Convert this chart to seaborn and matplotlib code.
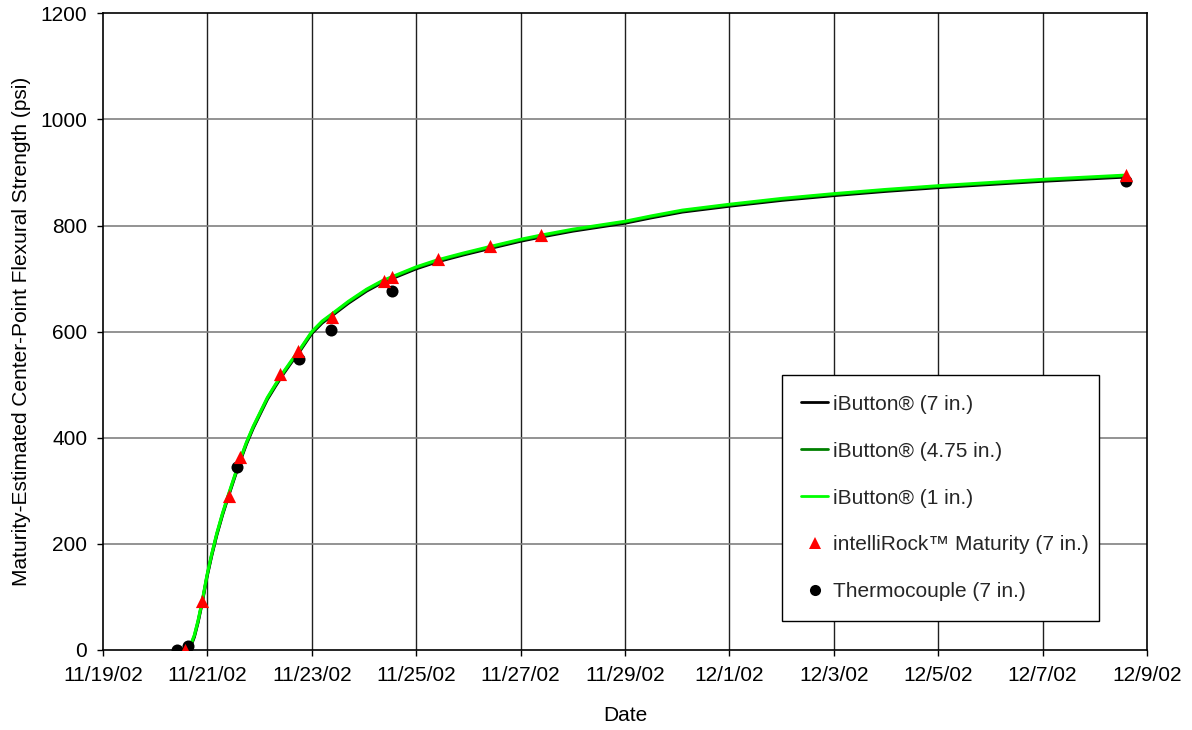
import matplotlib
matplotlib.use("Agg")
import matplotlib.pyplot as plt
import seaborn as sns
import pandas as pd
import numpy as np
from matplotlib.lines import Line2D

# ---- data (days after 11/19/02 00:00, psi) ----
start_date = "2002-11-19"

curve_days = [1.60, 1.68, 1.75, 1.82, 1.90, 1.99, 2.08, 2.18, 2.29, 2.40, 2.51, 2.63,
              2.75, 2.88, 3.02, 3.15, 3.30, 3.45, 3.60, 3.78, 4.00, 4.20, 4.42, 4.70,
              5.05, 5.35, 5.70, 6.00, 6.40, 6.90, 7.40, 8.00, 8.40, 9.00, 10.00, 10.50,
              11.10, 12.00, 13.00, 14.00, 15.00, 16.00, 17.00, 18.00, 19.00, 19.60]
ibutton_1 = [0, 10, 28, 55, 92, 140, 180, 220, 258, 292, 325, 360,
             392, 422, 450, 476, 500, 523, 544, 568, 600, 620, 636, 657,
             680, 696, 710, 722, 735, 748, 760, 774, 782, 793, 808, 818,
             829, 840, 851, 860, 868, 875, 881, 887, 892, 895]
ibutton_475 = [v - 1.5 for v in ibutton_1]
ibutton_7 = [v - 3.5 for v in ibutton_1]

intellirock_days = [1.57, 1.90, 2.41, 2.63, 3.40, 3.74, 4.39, 5.39, 5.53, 6.41, 7.41, 8.39, 19.60]
intellirock_psi = [0, 92, 291, 363, 520, 564, 627, 696, 703, 736, 762, 783, 896]

thermo_days = [1.41, 1.63, 2.57, 3.76, 4.37, 5.53, 19.60]
thermo_psi = [0, 8, 345, 548, 603, 677, 883]

tick_labels = ["11/19/02", "11/21/02", "11/23/02", "11/25/02", "11/27/02", "11/29/02",
               "12/1/02", "12/3/02", "12/5/02", "12/7/02", "12/9/02"]

t0 = pd.Timestamp(start_date)
def to_dt(days):
    return t0 + pd.to_timedelta(np.asarray(days, dtype=float), unit="D")

curves = pd.DataFrame({
    "Date": list(to_dt(curve_days)) * 3,
    "psi": ibutton_7 + ibutton_475 + ibutton_1,
    "series": ["iButton® (7 in.)"] * len(curve_days)
              + ["iButton® (4.75 in.)"] * len(curve_days)
              + ["iButton® (1 in.)"] * len(curve_days),
})
intel = pd.DataFrame({"Date": to_dt(intellirock_days), "psi": intellirock_psi})
thermo = pd.DataFrame({"Date": to_dt(thermo_days), "psi": thermo_psi})

sns.set_theme(style="white")
plt.rcParams["font.family"] = ["Liberation Sans", "DejaVu Sans"]

FS = 15
fig = plt.figure(figsize=(11.92, 7.30), dpi=100)
ax = fig.add_axes([0.0864, 0.1096, 0.8758, 0.8722])

palette = {"iButton® (7 in.)": "black", "iButton® (4.75 in.)": "#008000",
           "iButton® (1 in.)": "#00FF00"}
sns.lineplot(data=curves, x="Date", y="psi", hue="series", palette=palette,
             linewidth=2.2, ax=ax, legend=False, zorder=3)
sns.scatterplot(data=intel, x="Date", y="psi", marker="^", color="red", s=90,
                linewidth=0, ax=ax, zorder=5)
sns.scatterplot(data=thermo, x="Date", y="psi", marker="o", color="black", s=75,
                linewidth=0, ax=ax, zorder=4)

ax.set_xlim(to_dt([0])[0], to_dt([20])[0])
ax.set_ylim(0, 1200)
ticks = to_dt(np.arange(0, 21, 2))
ax.set_xticks(ticks)
ax.set_xticklabels(tick_labels)
ax.set_yticks(np.arange(0, 1201, 200))

ax.grid(False)
for t in ticks[1:-1]:
    ax.axvline(t, color="#202020", lw=1.0, zorder=1)
for y in range(200, 1200, 200):
    ax.axhline(y, color="#808080", lw=1.2, zorder=1)

for s in ax.spines.values():
    s.set_color("black")
    s.set_linewidth(1.2)
ax.tick_params(axis="both", direction="out", length=4.3, width=1, color="black",
               labelsize=FS, labelcolor="black", pad=7, bottom=True, left=True)

ax.set_xlabel("Date", fontsize=FS, color="black", labelpad=15.5)
ax.set_ylabel("Maturity-Estimated Center-Point Flexural Strength (psi)", fontsize=FS,
              color="black", labelpad=7)

handles = [
    Line2D([], [], color="black", lw=2),
    Line2D([], [], color="#008000", lw=2),
    Line2D([], [], color="#00FF00", lw=2),
    Line2D([], [], color="red", marker="^", ls="none", markersize=8, markeredgewidth=0),
    Line2D([], [], color="black", marker="o", ls="none", markersize=8, markeredgewidth=0),
]
labels = ["iButton® (7 in.)", "iButton® (4.75 in.)", "iButton® (1 in.)",
          "intelliRock™ Maturity (7 in.)", "Thermocouple (7 in.)"]
leg = ax.legend(handles, labels, loc="upper left", bbox_to_anchor=(0.650, 0.0535, 0.304, 0.3785),
                mode="expand", fontsize=FS, frameon=True, fancybox=False, framealpha=1,
                edgecolor="black", borderpad=0.95, labelspacing=1.34, handlelength=1.3,
                handletextpad=0.2, borderaxespad=0)
leg.get_frame().set_linewidth(1.0)
leg.set_zorder(10)

fig.savefig("out.png", dpi=100)
